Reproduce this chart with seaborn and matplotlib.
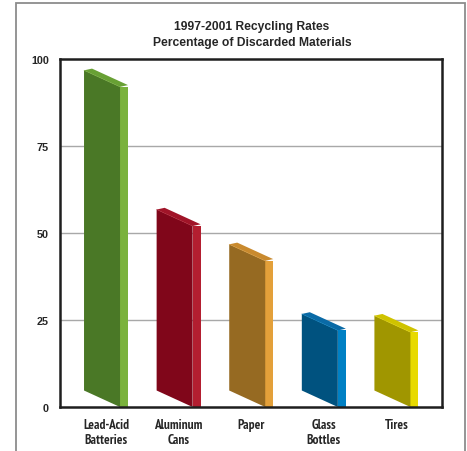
import matplotlib
matplotlib.use("Agg")
import matplotlib.pyplot as plt
from matplotlib.patches import Polygon, Rectangle
from matplotlib import font_manager as fm
import seaborn as sns

# Recycling rates by material (percent of discarded material)
categories = ["Lead-Acid\nBatteries", "Aluminum\nCans", "Paper", "Glass\nBottles", "Tires"]
rates = [92.0, 52.0, 42.0, 22.0, 21.5]
front_colors = ["#4A7826", "#80061A", "#966A22", "#00527F", "#A09600"]
side_colors = ["#7AB23C", "#B31E30", "#E3A03A", "#0080C4", "#E8DA00"]
top_colors = ["#68A034", "#A01428", "#C98A2E", "#0A6AA6", "#CFC300"]
yticks = [0, 25, 50, 75, 100]
title = "1997-2001 Recycling Rates\nPercentage of Discarded Materials"

sns.set_style("white")
plt.rcParams["font.family"] = ["Liberation Sans", "DejaVu Sans"]
plt.rcParams["font.weight"] = "bold"


def narrow_bold_font():
    """Return a bold narrow/condensed sans face if one is installed."""
    for f in fm.fontManager.ttflist:
        name = f.name.lower()
        w = f.weight if isinstance(f.weight, int) else (700 if f.weight == "bold" else 400)
        if "narrow" in name and "sans" in name and w >= 700:
            return fm.FontProperties(fname=f.fname)
    return None


narrow = narrow_bold_font()
if narrow is not None:
    label_font = narrow.copy()
    label_font.set_size(9.5)
else:
    label_font = fm.FontProperties(family=["Liberation Sans", "DejaVu Sans"],
                                   weight="bold", size=7.3)

W, H = 467, 452
fig = plt.figure(figsize=(W / 100, H / 100), dpi=100)
ax = fig.add_axes([60 / W, 1 - 408 / H, (442 - 60) / W, (408 - 60) / H])

# Side faces of the boxes: narrow rectangles drawn by seaborn
side_w = 0.11
sns.barplot(x=categories, y=rates, hue=categories, palette=side_colors,
            width=side_w, legend=False, ax=ax, zorder=3, linewidth=0,
            saturation=1)

front_w = 0.496      # width of the slanted front face
shift = 0.248        # side face sits to the right of the category centre
slant = 4.74         # vertical drop of the front face from left to right
rise = 0.5           # upward lean of the depth edge

for i, patch in enumerate(ax.patches):
    patch.set_x(patch.get_x() + shift)
    h = patch.get_height()
    xr = patch.get_x()
    x0 = xr - front_w
    front = Polygon([(x0, slant), (x0, slant + h), (xr, h), (xr, 0)],
                    closed=True, facecolor=front_colors[i], edgecolor="none",
                    zorder=3)
    top = Polygon([(x0, slant + h), (xr, h), (xr + side_w, h + rise),
                   (x0 + side_w, slant + h + rise)],
                  closed=True, facecolor=top_colors[i], edgecolor="none",
                  zorder=2.9)
    ax.add_patch(top)
    ax.add_patch(front)
    ax.plot([x0, xr], [slant + h, h], color=side_colors[i], lw=0.5,
            zorder=3.1, alpha=0.7)

ax.set_xlim(-0.634, 4.628)
ax.set_ylim(0, 100)
ax.set_yticks(yticks)
ax.set_yticklabels([str(t) for t in yticks], fontsize=7.8, fontweight="bold")
ax.set_xticks(range(len(categories)))
ax.set_xticklabels(categories, fontproperties=label_font, linespacing=1.2)
ax.tick_params(axis="both", length=0, pad=8)
ax.tick_params(axis="x", pad=8)
ax.set_xlabel("")
ax.set_ylabel("")

for t in (25, 50, 75):
    ax.axhline(t, color="#A8A8A8", lw=1.0, zorder=1)

for side in ax.spines.values():
    side.set_visible(True)
    side.set_color("#1E1E1E")
    side.set_linewidth(1.8)
    side.set_zorder(5)

fig.text(252 / W, 1 - 35 / H, title, ha="center", va="center",
         fontsize=8.7, fontweight="bold", linespacing=1.55)

# Outer frame around the figure, open at the bottom
frame = Rectangle((16 / W, -0.05), (465 - 16) / W, (1 - 4 / H) + 0.05,
                  transform=fig.transFigure, fill=False,
                  edgecolor="#8C8C8C", lw=1.3, clip_on=False)
fig.patches.append(frame)

fig.savefig("out.png", dpi=100)
